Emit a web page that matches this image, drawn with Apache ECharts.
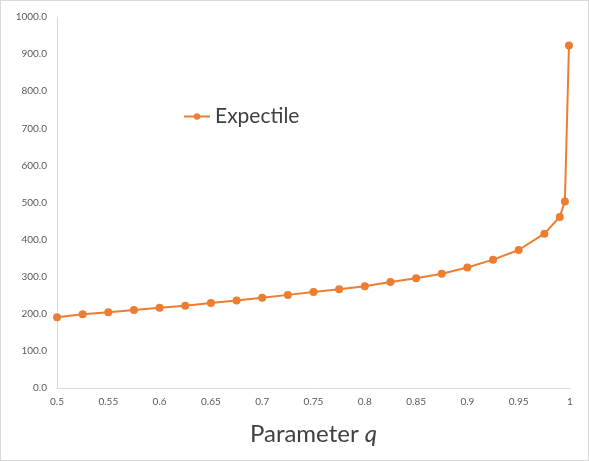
<!DOCTYPE html>
<html>
<head>
<meta charset="utf-8">
<script src="https://cdn.jsdelivr.net/npm/echarts@6/dist/echarts.min.js"></script>
<style>
  html, body { margin: 0; padding: 0; background: #fff; }
  #chart { width: 587px; height: 459px; border: 1px solid #d9d9d9; }
</style>
</head>
<body>
<div id="chart"></div>
<script>
// parameter q and expectile values
var qValues = [0.5, 0.525, 0.55, 0.575, 0.6, 0.625, 0.65, 0.675, 0.7, 0.725,
  0.75, 0.775, 0.8, 0.825, 0.85, 0.875, 0.9, 0.925, 0.95, 0.975, 0.99, 0.995, 0.999];
var expectile = [191, 199, 204, 210, 216, 222, 229, 236, 243, 251,
  259, 266, 274, 286, 296, 308, 325, 346, 372, 416, 461, 503, 923];
var seriesName = "Expectile";

var chart = echarts.init(document.getElementById("chart"));
var points = qValues.map(function(q, i) { return [q, expectile[i]]; });

chart.setOption({
  animation: false,
  textStyle: { fontFamily: "Lato" },
  grid: { left: 56, right: 18, top: 16, bottom: 72 },
  legend: {
    left: 177,
    top: 100,
    data: [seriesName],
    itemWidth: 26,
    itemHeight: 8,
    itemGap: 4,
    textStyle: { fontSize: 21, color: "#404040", fontFamily: "Lato" }
  },
  xAxis: {
    type: "value",
    min: 0.5,
    max: 1,
    interval: 0.05,
    name: "{a|Parameter }{b|q}",
    nameLocation: "middle",
    nameGap: 34,
    nameTextStyle: {
      rich: {
        a: { fontSize: 24, color: "#404040", fontFamily: "Lato" },
        b: { fontSize: 24, color: "#404040", fontFamily: "Lato", fontStyle: "italic" }
      }
    },
    axisLine: { lineStyle: { color: "#d9d9d9" } },
    axisTick: { show: false },
    splitLine: { show: false },
    axisLabel: {
      color: "#595959",
      fontSize: 10,
      margin: 9,
      formatter: function(v) { return String(+v.toFixed(2)); }
    }
  },
  yAxis: {
    type: "value",
    min: 0,
    max: 1000,
    interval: 100,
    axisLine: { show: true, lineStyle: { color: "#d9d9d9" } },
    axisTick: { show: false },
    splitLine: { show: false },
    axisLabel: {
      color: "#595959",
      fontSize: 10,
      margin: 10,
      formatter: function(v) { return v.toFixed(1); }
    }
  },
  series: [
    {
      name: seriesName,
      type: "line",
      data: points,
      color: "#ED7D31",
      symbol: "circle",
      symbolSize: 8,
      lineStyle: { width: 2, color: "#ED7D31" },
      itemStyle: { color: "#ED7D31" }
    }
  ]
});
</script>
</body>
</html>
